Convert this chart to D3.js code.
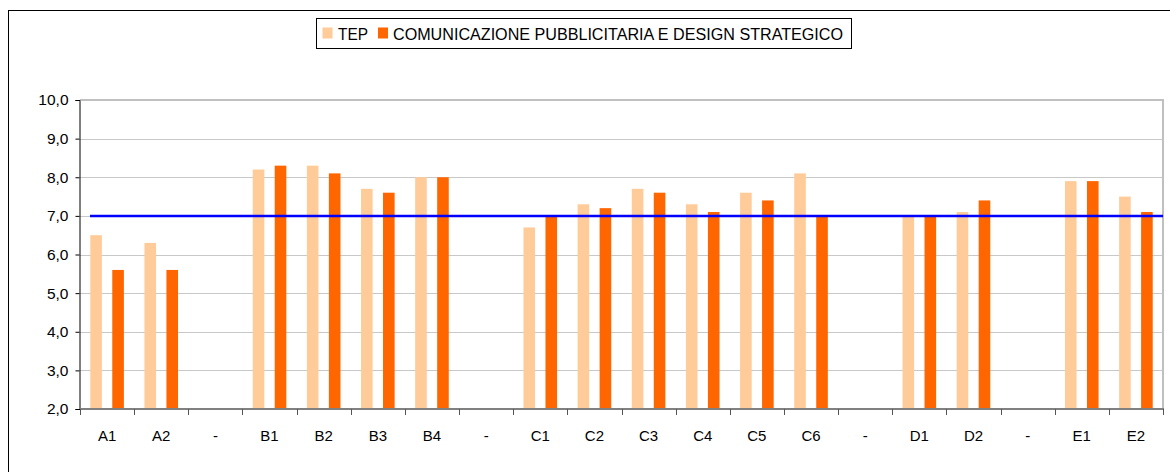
<!DOCTYPE html>
<html><head><meta charset="utf-8">
<script src="https://cdn.jsdelivr.net/npm/d3@7"></script>
<style>body{margin:0;background:#fff;}svg{display:block;font-family:"Liberation Sans",Arial,sans-serif;}</style>
</head><body><svg id="c" width="1170" height="472"></svg>
<script>
const categories = ["A1","A2","-","B1","B2","B3","B4","-","C1","C2","C3","C4","C5","C6","-","D1","D2","-","E1","E2"];
const tep =     [6.5,6.3,null,8.2,8.3,7.7,8.0,null,6.7,7.3,7.7,7.3,7.6,8.1,null,7.0,7.1,null,7.9,7.5];
const comunic = [5.6,5.6,null,8.3,8.1,7.6,8.0,null,7.0,7.2,7.6,7.1,7.4,7.0,null,7.0,7.4,null,7.9,7.1];
const threshold = 7.0;
const yTicks = [2,3,4,5,6,7,8,9,10];
const seriesNames = ["TEP","COMUNICAZIONE PUBBLICITARIA E DESIGN STRATEGICO"];
const colors = ["#FFCC99","#FF6600"];

const svg = d3.select("#c");
const L=80, R=1163, T=100, B=409;
const x = d3.scaleBand().domain(d3.range(categories.length)).range([L,R]).padding(0);
const y = d3.scaleLinear().domain([2,10]).range([B,T]);
const fmt = v => d3.format(".1f")(v).replace(".",",");

// outer frame
svg.append("rect").attr("x",8.5).attr("y",10.5).attr("width",1200).attr("height",500)
  .attr("fill","none").attr("stroke","#000").attr("stroke-width",1);

// gridlines
svg.append("g").selectAll("line").data(yTicks.filter(d=>d>2 && d<10)).join("line")
  .attr("x1",L).attr("x2",R).attr("y1",d=>Math.round(y(d))+0.5).attr("y2",d=>Math.round(y(d))+0.5)
  .attr("stroke","#c8c8c8").attr("stroke-width",1);
// plot border top & right
svg.append("line").attr("x1",L).attr("x2",R+1).attr("y1",y(10)).attr("y2",y(10)).attr("stroke","#c0c0c0").attr("stroke-width",2);
svg.append("line").attr("x1",R).attr("x2",R).attr("y1",y(10)).attr("y2",B).attr("stroke","#c0c0c0").attr("stroke-width",2);

// bars
const bw = 11.6, off = 11;
const g = svg.append("g");
[tep, comunic].forEach((vals,si)=>{
  g.selectAll(".s"+si).data(vals.map((v,i)=>({v,i})).filter(d=>d.v!=null)).join("rect")
    .attr("x",d=>x(d.i)+x.bandwidth()/2 + (si===0?-off:off) - bw/2)
    .attr("width",bw)
    .attr("y",d=>y(d.v)).attr("height",d=>B-y(d.v))
    .attr("fill",colors[si]);
});

// threshold line
svg.append("line").attr("x1",x(0)+10).attr("x2",R).attr("y1",y(threshold)).attr("y2",y(threshold))
  .attr("stroke","#0000FF").attr("stroke-width",2.5);

// y axis
const ya = svg.append("g").attr("transform",`translate(${L-0.5},0)`)
  .call(d3.axisLeft(y).tickValues(yTicks).tickFormat(fmt).tickSize(4).tickPadding(7));
ya.select(".domain").attr("stroke","#000");
ya.selectAll(".tick line").attr("stroke","#000");
ya.selectAll("text").attr("font-size","15.5px").attr("fill","#000").attr("font-family","Liberation Sans, Arial, sans-serif");

// x axis
const xa = svg.append("g").attr("transform",`translate(0,${B})`);
xa.append("line").attr("x1",L).attr("x2",R+1).attr("y1",0).attr("y2",0).attr("stroke","#808080").attr("stroke-width",2);
xa.selectAll(".tk").data(d3.range(categories.length+1)).join("line")
  .attr("x1",i=>Math.round(i<categories.length?x(i):R)+0.5).attr("x2",i=>Math.round(i<categories.length?x(i):R)+0.5)
  .attr("y1",0).attr("y2",6).attr("stroke","#555");
xa.selectAll("text").data(categories).join("text")
  .attr("x",(d,i)=>x(i)+x.bandwidth()/2).attr("y",32)
  .attr("text-anchor","middle").attr("font-size","15px").attr("fill","#000").text(d=>d);

// legend
const lg = svg.append("g");
lg.append("rect").attr("x",316.5).attr("y",18.5).attr("width",535).attr("height",30)
  .attr("fill","#fff").attr("stroke","#000").attr("stroke-width",1);
lg.append("rect").attr("x",322.5).attr("y",27.5).attr("width",10).attr("height",11).attr("fill",colors[0]);
lg.append("text").attr("x",338).attr("y",40).attr("font-size","16px").text(seriesNames[0])
  .attr("textLength",30).attr("lengthAdjust","spacingAndGlyphs");
lg.append("rect").attr("x",378).attr("y",27.5).attr("width",10).attr("height",11).attr("fill",colors[1]);
lg.append("text").attr("x",393).attr("y",40).attr("font-size","16px").text(seriesNames[1])
  .attr("textLength",450).attr("lengthAdjust","spacingAndGlyphs");
</script></body></html>
